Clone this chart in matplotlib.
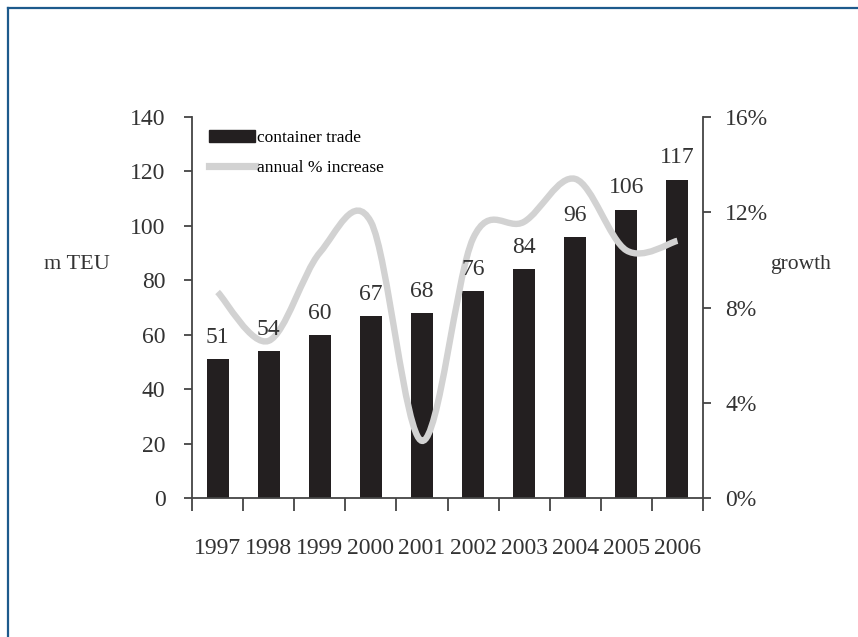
import matplotlib
matplotlib.use("Agg")
import matplotlib.pyplot as plt
from matplotlib.path import Path
from matplotlib.patches import PathPatch, Patch
from matplotlib.lines import Line2D
import numpy as np

years = ["1997", "1998", "1999", "2000", "2001", "2002", "2003", "2004", "2005", "2006"]
trade = [51, 54, 60, 67, 68, 76, 84, 96, 106, 117]
growth = [8.65, 6.6, 10.3, 11.6, 2.4, 10.9, 11.6, 13.4, 10.4, 10.8]

plt.rcParams["font.family"] = ["Liberation Serif", "DejaVu Serif"]
ink = "#333333"
bar_color = "#231f20"
line_color = "#d2d2d2"
fs = 17

fig = plt.figure(figsize=(8.58, 6.37), dpi=100)
ax = fig.add_axes([192 / 858, 139 / 637, 511 / 858, 381 / 637])
ax2 = ax.twinx()

x = np.arange(len(years))
ax.bar(x, trade, width=0.43, color=bar_color, zorder=2)

# smoothed growth line: cubic bezier segments through each yearly value
pts = np.column_stack([x, growth]).astype(float)
ext = np.vstack([pts[0], pts, pts[-1]])
verts = [tuple(pts[0])]
codes = [Path.MOVETO]
for i in range(len(pts) - 1):
    p0, p1, p2, p3 = ext[i], ext[i + 1], ext[i + 2], ext[i + 3]
    c1 = p1 + (p2 - p0) / 6
    c2 = p2 - (p3 - p1) / 6
    verts += [tuple(c1), tuple(c2), tuple(p2)]
    codes += [Path.CURVE4] * 3
ax2.add_patch(PathPatch(Path(verts, codes), facecolor="none", edgecolor=line_color,
                        lw=4.6, capstyle="butt", zorder=3))

# value labels sit above the growth line
for xi, v in zip(x, trade):
    ax2.annotate(str(v), (xi, v), xycoords=ax.transData, xytext=(0, 8),
                 textcoords="offset points", ha="center", va="bottom",
                 fontsize=fs, color=ink, zorder=5)

ax.set_xlim(-0.5, 9.5)
ax.set_ylim(0, 140)
ax2.set_ylim(0, 16)
ax.set_yticks(range(0, 141, 20))
ax2.set_yticks(range(0, 17, 4))
ax2.set_yticklabels([f"{v}%" for v in range(0, 17, 4)])

ax.set_xticks(np.arange(-0.5, 10, 1))
ax.set_xticklabels([])
ax.set_xticks(x, minor=True)
ax.set_xticklabels(years, minor=True)

for a in (ax, ax2):
    a.spines["top"].set_visible(False)
    for s in a.spines.values():
        s.set_color("#444444")
        s.set_linewidth(1.3)
ax.spines["right"].set_visible(False)
ax2.spines["left"].set_visible(False)
ax2.spines["bottom"].set_visible(False)

ax.tick_params(axis="x", which="major", direction="out", length=9, width=1.3, color="#444444")
ax.tick_params(axis="x", which="minor", length=0, pad=29, labelsize=fs, labelcolor=ink)
ax.tick_params(axis="y", direction="out", length=6, width=1.3, color="#444444",
               pad=13, labelsize=fs, labelcolor=ink)
ax2.tick_params(axis="y", direction="out", length=6, width=1.3, color="#444444",
                pad=10, labelsize=fs, labelcolor=ink)

handles = [Patch(facecolor=bar_color, edgecolor=bar_color),
           Line2D([0], [0], color=line_color, lw=5.2)]
ax2.legend(handles, ["container trade", "annual % increase"], loc="upper left",
           bbox_to_anchor=(0.034, 0.965), frameon=False, fontsize=12.5,
           handlelength=2.65, handleheight=0.7, handletextpad=0.1,
           labelspacing=0.75, borderpad=0, borderaxespad=0)

fig.text(77 / 858, 1 - 265 / 637, "m TEU", ha="center", va="center", fontsize=16, color=ink)
fig.text(801 / 858, 1 - 265 / 637, "growth", ha="center", va="center", fontsize=15.5, color=ink)

# page frame along left and top edges
frame = "#1d5a8c"
fig.add_artist(Line2D([8 / 858, 8 / 858], [0, 1 - 8 / 637], color=frame, lw=1.6,
                      transform=fig.transFigure))
fig.add_artist(Line2D([8 / 858, 1], [1 - 8 / 637, 1 - 8 / 637], color=frame, lw=1.6,
                      transform=fig.transFigure))

fig.savefig("out.png", dpi=100)
